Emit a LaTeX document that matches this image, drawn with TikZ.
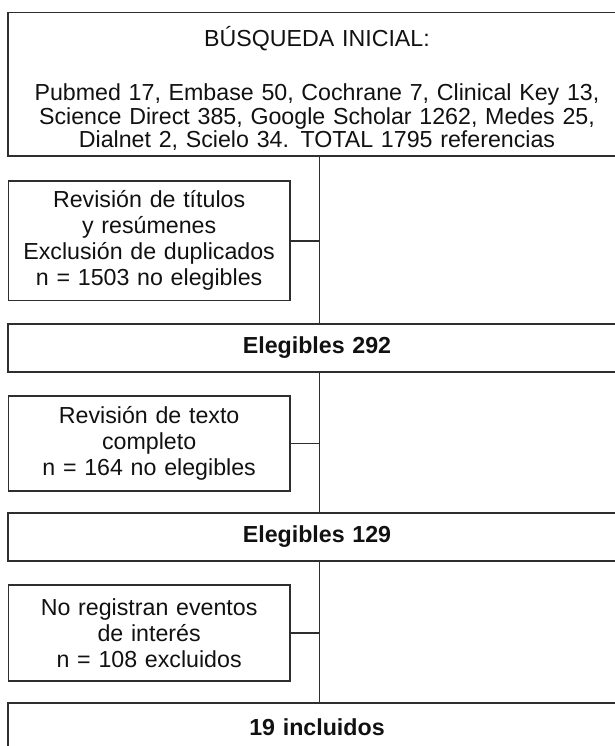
\documentclass[tikz,border=0pt]{standalone}
\usepackage{fontspec}
\setmainfont{Liberation Sans}
\lineskiplimit=-20pt
\definecolor{flowLine}{HTML}{2E2E2E}
\definecolor{flowInk}{HTML}{111111}
\tikzset{
  stagebox/.style={draw=flowLine, line width=0.7pt, inner sep=0pt, align=center, text=flowInk},
  widebox/.style={stagebox, minimum width=309pt, text width=300pt},
  sidebox/.style={stagebox, minimum width=140.85pt, text width=138pt, font=\fontsize{11.6pt}{13pt}\selectfont},
  link/.style={draw=flowLine, line width=0.7pt}
}
\begin{document}
\begin{tikzpicture}[x=0.5pt,y=-0.5pt,font=\fontsize{11.6pt}{12pt}\selectfont]
  \useasboundingbox (0,0) rectangle (615,746);
  \clip (0,0) rectangle (615,746);
  \coordinate (trunk) at (319.5,0);

  \node[widebox,minimum height=71.75pt,font=\fontsize{11.6pt}{9.5pt}\selectfont] (busq) at (317,84.25)
    {\rule{0pt}{15.85pt}BÚSQUEDA INICIAL:\\[15.6pt]
     Pubmed 17, Embase 50, Cochrane 7, Clinical Key 13,\\
     Science Direct 385, Google Scholar 1262, Medes 25,\\
     Dialnet 2, Scielo 34. TOTAL 1795 referencias\rule[-3pt]{0pt}{3pt}};

  \node[sidebox,minimum height=59.85pt] (rev1) at (149.15,240.85)
    {Revisión de títulos\\ y resúmenes\\ Exclusión de duplicados\\ n = 1503 no elegibles};
  \node[widebox,minimum height=24pt,font=\fontsize{11.6pt}{12pt}\selectfont\bfseries] (eleg1) at (317,348) {Elegibles 292};

  \node[sidebox,minimum height=47.5pt] (rev2) at (149.15,443.5)
    {Revisión de texto\\ completo\\ n = 164 no elegibles};
  \node[widebox,minimum height=24pt,font=\fontsize{11.6pt}{12pt}\selectfont\bfseries] (eleg2) at (317,537) {Elegibles 129};

  \node[sidebox,minimum height=48pt] (noreg) at (149.15,633)
    {No registran eventos\\ de interés\\ n = 108 excluidos};
  \node[widebox,minimum height=24pt,font=\fontsize{11.6pt}{12pt}\selectfont\bfseries] (incl) at (317,727) {19 incluidos};

  \draw[link] (busq.south -| trunk) -- (eleg1.north -| trunk);
  \draw[link] (eleg1.south -| trunk) -- (eleg2.north -| trunk);
  \draw[link] (eleg2.south -| trunk) -- (incl.north -| trunk);
  \foreach \side in {rev1,rev2,noreg}
    \draw[link] (\side.east) -- (\side.east -| trunk);
\end{tikzpicture}
\end{document}
